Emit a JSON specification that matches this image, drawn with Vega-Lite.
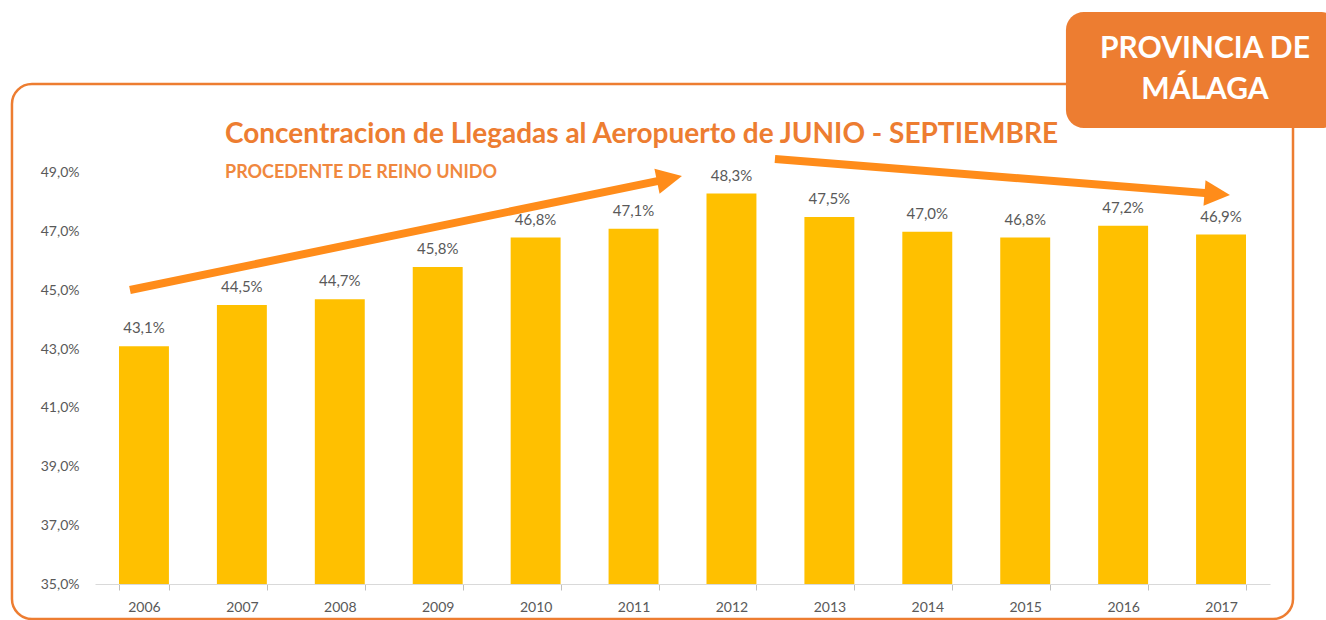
{
  "$schema": "https://vega.github.io/schema/vega-lite/v6.json",
  "autosize": "none",
  "width": 1175,
  "height": 500,
  "padding": {"left": 95, "top": 84, "right": 56, "bottom": 36},
  "background": "white",
  "config": {
    "view": {"stroke": null},
    "font": "Lato",
    "locale": {"number": {"decimal": ",", "thousands": ".", "grouping": [3], "currency": ["", " €"]}}
  },
  "title": {
    "text": "Concentracion de Llegadas al Aeropuerto de JUNIO - SEPTIEMBRE",
    "subtitle": "PROCEDENTE DE REINO UNIDO",
    "anchor": "start",
    "frame": "group",
    "orient": "top",
    "dx": 130,
    "dy": 73,
    "offset": -97,
    "font": "Lato",
    "fontSize": 28,
    "fontWeight": "bold",
    "color": "#ED7D31",
    "subtitleFont": "Lato",
    "subtitleFontSize": 18,
    "subtitleFontWeight": "bold",
    "subtitleColor": "#F0883E",
    "subtitlePadding": 15
  },
  "layer": [
    {
      "data": {"values": [{}]},
      "mark": {"type": "rect", "fill": null, "stroke": "#ED7D31", "strokeWidth": 2.5, "cornerRadius": 20, "clip": false},
      "encoding": {
        "x": {"datum": 2004.652, "type": "quantitative", "scale": {"domain": [2005.5, 2017.5], "nice": false, "zero": false}, "axis": null},
        "x2": {"datum": 2017.735},
        "y": {"datum": 0.5203, "type": "quantitative", "scale": {"domain": [0.35, 0.5203], "nice": false, "zero": false}, "axis": null},
        "y2": {"datum": 0.33808}
      }
    },
    {
      "data": {"values": [
        {"year": "2006", "value": 0.431},
        {"year": "2007", "value": 0.445},
        {"year": "2008", "value": 0.447},
        {"year": "2009", "value": 0.458},
        {"year": "2010", "value": 0.468},
        {"year": "2011", "value": 0.471},
        {"year": "2012", "value": 0.483},
        {"year": "2013", "value": 0.475},
        {"year": "2014", "value": 0.470},
        {"year": "2015", "value": 0.468},
        {"year": "2016", "value": 0.472},
        {"year": "2017", "value": 0.469}
      ]},
      "encoding": {
        "x": {
          "field": "year", "type": "nominal",
          "scale": {"paddingInner": 0.49, "paddingOuter": 0.245},
          "axis": {
            "title": null, "labelAngle": 0, "tickBand": "extent",
            "domainColor": "#d9d9d9", "tickColor": "#bfbfbf", "tickSize": 6,
            "labelFont": "Lato", "labelFontSize": 14, "labelColor": "#595959", "labelPadding": 10
          }
        },
        "y": {
          "field": "value", "type": "quantitative",
          "scale": {"domain": [0.35, 0.5203], "nice": false, "zero": false},
          "axis": {
            "title": null, "values": [0.35, 0.37, 0.39, 0.41, 0.43, 0.45, 0.47, 0.49],
            "format": ".1%", "domain": false, "ticks": false, "grid": false,
            "labelFont": "Lato", "labelFontSize": 14, "labelColor": "#595959", "labelPadding": 16
          }
        }
      },
      "layer": [
        {"mark": {"type": "bar", "color": "#FFC000"}, "encoding": {"y2": {"datum": 0.35}}},
        {"mark": {"type": "text", "baseline": "bottom", "dy": -10, "font": "Lato", "fontSize": 15, "color": "#595959"},
         "encoding": {"text": {"field": "value", "type": "quantitative", "format": ".1%"}}}
      ]
    },
    {
      "data": {"values": [{}]},
      "mark": {"type": "rule", "color": "#FF8C1A", "strokeWidth": 8, "strokeCap": "butt", "clip": false},
      "encoding": {
        "x": {"datum": 2005.857, "type": "quantitative", "scale": {"domain": [2005.5, 2017.5], "nice": false, "zero": false}, "axis": null},
        "x2": {"datum": 2011.367},
        "y": {"datum": 0.45014, "type": "quantitative", "scale": {"domain": [0.35, 0.5203], "nice": false, "zero": false}, "axis": null},
        "y2": {"datum": 0.48808}
      }
    },
    {
      "data": {"values": [{}]},
      "mark": {"type": "point", "shape": "M-1,-1L1,0L-1,1Z", "filled": true, "color": "#FF8C1A", "opacity": 1, "size": 650, "angle": -11.67, "clip": false},
      "encoding": {
        "x": {"datum": 2011.367, "type": "quantitative", "scale": {"domain": [2005.5, 2017.5], "nice": false, "zero": false}, "axis": null},
        "y": {"datum": 0.48808, "type": "quantitative", "scale": {"domain": [0.35, 0.5203], "nice": false, "zero": false}, "axis": null}
      }
    },
    {
      "data": {"values": [{}]},
      "mark": {"type": "rule", "color": "#FF8C1A", "strokeWidth": 8, "strokeCap": "butt", "clip": false},
      "encoding": {
        "x": {"datum": 2012.444, "type": "quantitative", "scale": {"domain": [2005.5, 2017.5], "nice": false, "zero": false}, "axis": null},
        "x2": {"datum": 2016.961},
        "y": {"datum": 0.49475, "type": "quantitative", "scale": {"domain": [0.35, 0.5203], "nice": false, "zero": false}, "axis": null},
        "y2": {"datum": 0.48283}
      }
    },
    {
      "data": {"values": [{}]},
      "mark": {"type": "point", "shape": "M-1,-1L1,0L-1,1Z", "filled": true, "color": "#FF8C1A", "opacity": 1, "size": 650, "angle": 4.52, "clip": false},
      "encoding": {
        "x": {"datum": 2016.961, "type": "quantitative", "scale": {"domain": [2005.5, 2017.5], "nice": false, "zero": false}, "axis": null},
        "y": {"datum": 0.48283, "type": "quantitative", "scale": {"domain": [0.35, 0.5203], "nice": false, "zero": false}, "axis": null}
      }
    },
    {
      "data": {"values": [{}]},
      "mark": {"type": "rect", "fill": "#ED7D31", "cornerRadius": 18, "clip": false},
      "encoding": {
        "x": {"datum": 2015.416, "type": "quantitative", "scale": {"domain": [2005.5, 2017.5], "nice": false, "zero": false}, "axis": null},
        "x2": {"datum": 2018.21},
        "y": {"datum": 0.5448, "type": "quantitative", "scale": {"domain": [0.35, 0.5203], "nice": false, "zero": false}, "axis": null},
        "y2": {"datum": 0.5053}
      }
    },
    {
      "data": {"values": [{}]},
      "mark": {"type": "text", "text": "PROVINCIA DE\nMÁLAGA", "lineBreak": "\n", "lineHeight": 41, "align": "center", "baseline": "middle", "font": "Lato", "fontSize": 30, "fontWeight": "bold", "color": "white", "clip": false},
      "encoding": {
        "x": {"datum": 2016.836, "type": "quantitative", "scale": {"domain": [2005.5, 2017.5], "nice": false, "zero": false}, "axis": null},
        "y": {"datum": 0.53239, "type": "quantitative", "scale": {"domain": [0.35, 0.5203], "nice": false, "zero": false}, "axis": null}
      }
    }
  ],
  "resolve": {"scale": {"x": "independent", "y": "independent"}}
}
